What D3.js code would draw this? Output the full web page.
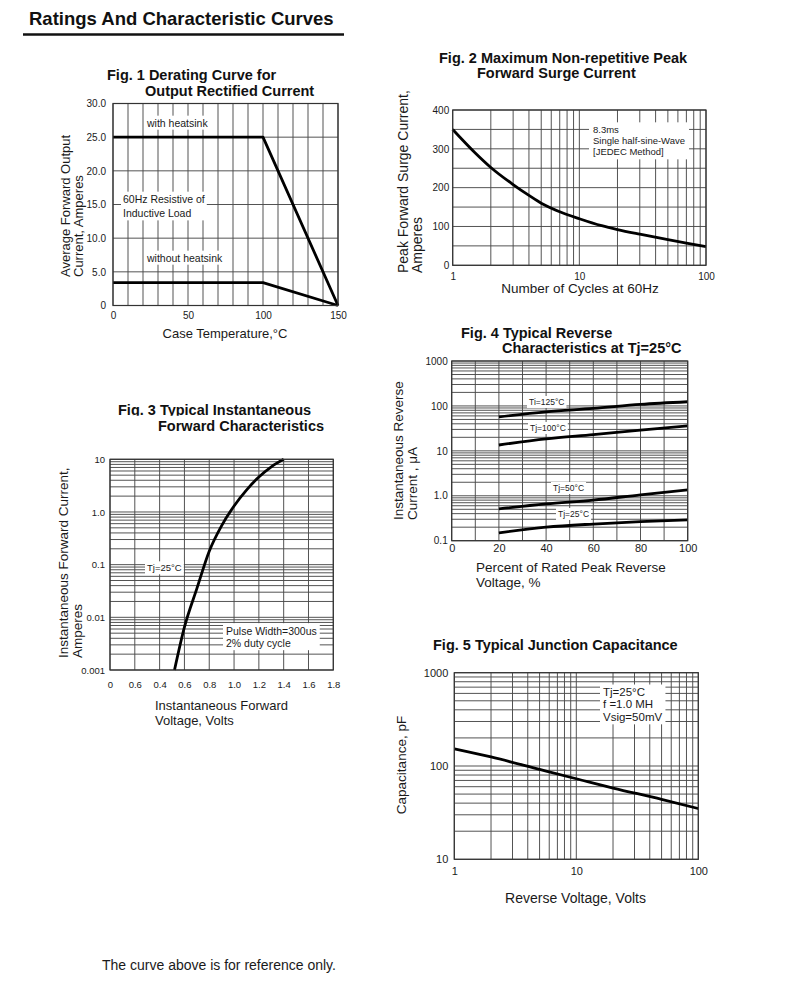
<!DOCTYPE html>
<html>
<head>
<meta charset="utf-8">
<script src="https://cdn.jsdelivr.net/npm/d3@7"></script>
<style>
	body { margin: 0; background: #fff; }
	svg { font-family: "Liberation Sans", Arial, sans-serif; }
</style>
</head>
<body>
<svg width="790" height="1001"></svg>
<script>
// Fig 1 - derating curve
var fig1Temp = [0, 100, 150];
var fig1WithHeatsink = [25, 25, 0];
var fig1WithoutHeatsink = [3.4, 3.4, 0];
var fig1XTicks = [0, 50, 100, 150];
var fig1YTicks = [0, 5, 10, 15, 20, 25, 30];
var fig1YLabels = ["0", "5.0", "10.0", "15.0", "20.0", "25.0", "30.0"];

// Fig 2 - surge current
var fig2Cycles = [1, 1.5, 2, 3, 4, 5, 7, 10, 15, 20, 30, 50, 70, 100];
var fig2Current = [350, 290, 252, 208, 180, 160, 138, 120, 102, 92, 80, 66, 57, 48];
var fig2XTicks = [1, 10, 100];
var fig2YTicks = [0, 100, 200, 300, 400];

// Fig 3 - forward characteristics
var fig3Voltage = [0.52, 0.6, 0.7, 0.8, 0.9, 1.0, 1.1, 1.2, 1.3, 1.4];
var fig3Current = [0.001, 0.0065, 0.035, 0.18, 0.55, 1.3, 2.6, 4.6, 7.2, 10];
var fig3XTicks = [0, 0.2, 0.4, 0.6, 0.8, 1.0, 1.2, 1.4, 1.6, 1.8];
var fig3XLabels = ["0", "0.6", "0.4", "0.6", "0.8", "1.0", "1.2", "1.4", "1.6", "1.8"];
var fig3YTicks = [0.001, 0.01, 0.1, 1, 10];
var fig3YLabels = ["0.001", "0.01", "0.1", "1.0", "10"];

// Fig 4 - reverse characteristics
var fig4Percent = [20, 40, 60, 80, 100];
var fig4Tj125 = [57, 74, 88, 108, 124];
var fig4Tj100 = [13.5, 18.5, 23, 29, 36];
var fig4Tj50 = [0.51, 0.66, 0.8, 1.05, 1.35];
var fig4Tj25 = [0.15, 0.2, 0.235, 0.265, 0.29];
var fig4XTicks = [0, 20, 40, 60, 80, 100];
var fig4YTicks = [0.1, 1, 10, 100, 1000];
var fig4YLabels = ["0.1", "1.0", "10", "100", "1000"];

// Fig 5 - junction capacitance
var fig5Voltage = [1, 2, 5, 10, 20, 50, 100];
var fig5Capacitance = [153, 125, 92, 73, 58, 44, 35];
var fig5XTicks = [1, 10, 100];
var fig5YTicks = [10, 100, 1000];

var svg = d3.select("svg");
var ink = "#1a1a1a";

function drawPanel(cfg) {
	var g = svg.append("g");
	var x = (cfg.xLog ? d3.scaleLog() : d3.scaleLinear())
		.domain(cfg.xDomain)
		.range([cfg.left, cfg.right]);
	var y = (cfg.yLog ? d3.scaleLog() : d3.scaleLinear())
		.domain(cfg.yDomain)
		.range([cfg.bottom, cfg.top]);

	// grid
	g.append("g")
		.selectAll("line")
		.data(x.ticks(cfg.xCount))
		.join("line")
		.attr("x1", (d) => x(d))
		.attr("x2", (d) => x(d))
		.attr("y1", cfg.top)
		.attr("y2", cfg.bottom)
		.attr("stroke", "#4a4a4a")
		.attr("stroke-width", 0.95);
	g.append("g")
		.selectAll("line")
		.data(y.ticks(cfg.yCount))
		.join("line")
		.attr("x1", cfg.left)
		.attr("x2", cfg.right)
		.attr("y1", (d) => y(d))
		.attr("y2", (d) => y(d))
		.attr("stroke", "#4a4a4a")
		.attr("stroke-width", 0.95);

	// tick labels
	var yAxis = d3
		.axisLeft(y)
		.tickValues(cfg.yTicks)
		.tickFormat((d, i) => (cfg.yLabels ? cfg.yLabels[i] : d))
		.tickSize(0)
		.tickPadding(cfg.yPad);
	g.append("g")
		.attr("transform", `translate(${cfg.left},0)`)
		.call(yAxis)
		.attr("font-family", null)
		.attr("font-size", cfg.yFont)
		.style("color", ink)
		.call((a) => a.select(".domain").remove());

	var xAxis = d3
		.axisBottom(x)
		.tickValues(cfg.xTicks)
		.tickFormat((d, i) => (cfg.xLabels ? cfg.xLabels[i] : d))
		.tickSize(0)
		.tickPadding(cfg.xPad);
	g.append("g")
		.attr("transform", `translate(0,${cfg.bottom})`)
		.call(xAxis)
		.attr("font-family", null)
		.attr("font-size", cfg.xFont)
		.style("color", ink)
		.call((a) => a.select(".domain").remove());

	// notes on white boxes
	(cfg.notes || []).forEach((note) => boxedText(g, note));

	// curves
	var line = d3
		.line()
		.x((d) => x(d[0]))
		.y((d) => y(d[1]))
		.curve(cfg.curve || d3.curveLinear);
	cfg.series.forEach((s) => {
		g.append("path")
			.datum(d3.zip(cfg.xs, s))
			.attr("d", line)
			.attr("fill", "none")
			.attr("stroke", "#000")
			.attr("stroke-width", 2.8)
			.attr("stroke-linejoin", "round");
	});

	// frame
	g.append("rect")
		.attr("x", cfg.left)
		.attr("y", cfg.top)
		.attr("width", cfg.right - cfg.left)
		.attr("height", cfg.bottom - cfg.top)
		.attr("fill", "none")
		.attr("stroke", "#333")
		.attr("stroke-width", 1.2);

	return g;
}

function boxedText(g, note) {
	var t = g
		.append("text")
		.attr("font-size", note.size)
		.attr("fill", ink);
	note.lines.forEach((txt, i) => {
		t.append("tspan")
			.attr("x", note.x)
			.attr("y", note.y + i * (note.lh || 0))
			.attr("dy", "0.35em")
			.text(txt);
	});
	var b = t.node().getBBox();
	var pad = note.pad == null ? 2 : note.pad;
	g.insert("rect", () => t.node())
		.attr("x", b.x - pad)
		.attr("y", b.y - pad / 2)
		.attr("width", b.width + 2 * pad)
		.attr("height", b.height + pad)
		.attr("fill", "#fff");
}

function title(lines) {
	lines.forEach((l) => {
		svg.append("text")
			.attr("x", l[0])
			.attr("y", l[1])
			.attr("font-size", l[3] || 14.5)
			.attr("font-weight", "bold")
			.attr("fill", "#111")
			.attr("clip-path", l[4] ? `url(#${l[4]})` : null)
			.text(l[2]);
	});
}

function plainText(x, y, txt, size, anchor) {
	return svg
		.append("text")
		.attr("x", x)
		.attr("y", y)
		.attr("font-size", size)
		.attr("text-anchor", anchor || "start")
		.attr("fill", ink)
		.text(txt);
}

function yTitle(lines, xs, yBottom, size, anchor) {
	lines.forEach((txt, i) => {
		svg.append("text")
			.attr("transform", `translate(${xs[i]},${yBottom}) rotate(-90)`)
			.attr("dy", "0.35em")
			.attr("font-size", size)
			.attr("text-anchor", anchor || "start")
			.attr("fill", ink)
			.text(txt);
	});
}

// Header
svg.append("text")
	.attr("x", 29)
	.attr("y", 25)
	.attr("font-size", 18.5)
	.attr("font-weight", "bold")
	.attr("fill", "#111")
	.text("Ratings And Characteristic Curves");
svg.append("line")
	.attr("x1", 23)
	.attr("x2", 344)
	.attr("y1", 34.5)
	.attr("y2", 34.5)
	.attr("stroke", "#111")
	.attr("stroke-width", 2.5);

// clip for the cut-off title of fig 3
svg.append("defs")
	.append("clipPath")
	.attr("id", "clip3")
	.append("rect")
	.attr("x", 0)
	.attr("y", 390)
	.attr("width", 400)
	.attr("height", 25.8);

// ---- Fig 1
title([
	[107, 80, "Fig. 1 Derating Curve for"],
	[145, 96, "Output Rectified Current"],
]);
drawPanel({
	left: 113, right: 338, top: 103.5, bottom: 305.5,
	xDomain: [0, 150], yDomain: [0, 30],
	xCount: 15, yCount: 6,
	xTicks: fig1XTicks, yTicks: fig1YTicks, yLabels: fig1YLabels,
	xFont: 10, yFont: 10, xPad: 6, yPad: 7,
	xs: fig1Temp,
	series: [fig1WithHeatsink, fig1WithoutHeatsink],
	notes: [
		{ x: 147, y: 123, size: 10.5, lines: ["with heatsink"] },
		{ x: 123, y: 199, size: 10.5, lh: 14.7, lines: ["60Hz Resistive of", "Inductive Load"] },
		{ x: 147, y: 258, size: 10.5, lines: ["without heatsink"] },
	],
});
plainText(225, 338, "Case Temperature,\u00b0C", 13, "middle");
yTitle(["Average Forward Output", "Current, Amperes"], [65, 78], 277, 13);

// ---- Fig 2
title([
	[439, 63.3, "Fig. 2 Maximum Non-repetitive Peak"],
	[477, 78.3, "Forward Surge Current"],
]);
drawPanel({
	left: 452.7, right: 706, top: 110, bottom: 265.3,
	xLog: true, xDomain: [1, 100], yDomain: [0, 400],
	yCount: 8,
	xTicks: fig2XTicks, yTicks: fig2YTicks,
	xFont: 10, yFont: 10, xPad: 8, yPad: 3.5,
	xs: fig2Cycles,
	series: [fig2Current],
	curve: d3.curveMonotoneX,
	notes: [
		{ x: 593, y: 130, size: 9.5, lh: 11, pad: 4, lines: ["8.3ms", "Single half-sine-Wave", "[JEDEC Method]"] },
	],
});
plainText(580, 293, "Number of Cycles at 60Hz", 13.5, "middle");
yTitle(["Peak Forward Surge Current,", "Amperes"], [403, 417], 273, 14);

// ---- Fig 3
title([
	[118, 415, "Fig. 3 Typical Instantaneous", 14.5, "clip3"],
	[158, 431, "Forward Characteristics"],
]);
drawPanel({
	left: 110, right: 333.3, top: 459.3, bottom: 670,
	yLog: true, xDomain: [0, 1.8], yDomain: [0.001, 10],
	xCount: 9,
	xTicks: fig3XTicks, xLabels: fig3XLabels, yTicks: fig3YTicks, yLabels: fig3YLabels,
	xFont: 9.5, yFont: 9.5, xPad: 11.5, yPad: 5,
	xs: fig3Voltage,
	series: [fig3Current],
	curve: d3.curveMonotoneX,
	notes: [
		{ x: 147, y: 568, size: 9.5, lines: ["Tj=25\u00b0C"] },
		{ x: 226, y: 631, size: 10.5, lh: 12, pad: 3, lines: ["Pulse Width=300us", "2% duty cycle"] },
	],
});
plainText(155, 709.7, "Instantaneous Forward", 13);
plainText(155, 724.7, "Voltage, Volts", 13);
yTitle(["Instantaneous Forward Current,", "Amperes"], [63, 77], 658, 13.5);

// ---- Fig 4
title([
	[461, 338, "Fig. 4 Typical Reverse"],
	[502, 352.5, "Characteristics at Tj=25\u00b0C"],
]);
drawPanel({
	left: 451.7, right: 687.7, top: 361, bottom: 540.7,
	yLog: true, xDomain: [0, 100], yDomain: [0.1, 1000],
	xCount: 10,
	xTicks: fig4XTicks, yTicks: fig4YTicks, yLabels: fig4YLabels,
	xFont: 11, yFont: 10, xPad: 3.5, yPad: 4,
	xs: fig4Percent,
	series: [fig4Tj125, fig4Tj100, fig4Tj50, fig4Tj25],
	curve: d3.curveMonotoneX,
	notes: [
		{ x: 529, y: 402, size: 8.5, lines: ["Ti=125\u00b0C"] },
		{ x: 530, y: 428, size: 8.5, lines: ["Tj=100\u00b0C"] },
		{ x: 553, y: 488, size: 8.5, lines: ["Tj=50\u00b0C"] },
		{ x: 558, y: 514, size: 8.5, lines: ["Tj=25\u00b0C"] },
	],
});
plainText(476, 571.5, "Percent of Rated Peak Reverse", 13.5);
plainText(476, 586.5, "Voltage, %", 13.5);
yTitle(["Instantaneous Reverse", "Current , \u03bcA"], [398, 412], 520, 13.5);

// ---- Fig 5
title([[433, 650, "Fig. 5 Typical Junction Capacitance"]]);
drawPanel({
	left: 454.3, right: 698.3, top: 672.7, bottom: 859.3,
	xLog: true, yLog: true, xDomain: [1, 100], yDomain: [10, 1000],
	xTicks: fig5XTicks, yTicks: fig5YTicks,
	xFont: 11, yFont: 11, xPad: 7.5, yPad: 6,
	xs: fig5Voltage,
	series: [fig5Capacitance],
	curve: d3.curveMonotoneX,
	notes: [
		{ x: 603, y: 692, size: 11.5, lh: 12.4, pad: 3, lines: ["Tj=25\u00b0C", "f =1.0 MH", "Vsig=50mV"] },
	],
});
plainText(575.5, 903.3, "Reverse Voltage, Volts", 14, "middle");
yTitle(["Capacitance, pF"], [401], 765, 13.5, "middle");

// Footer
plainText(102, 970, "The curve above is for reference only.", 14);
</script>
</body>
</html>
